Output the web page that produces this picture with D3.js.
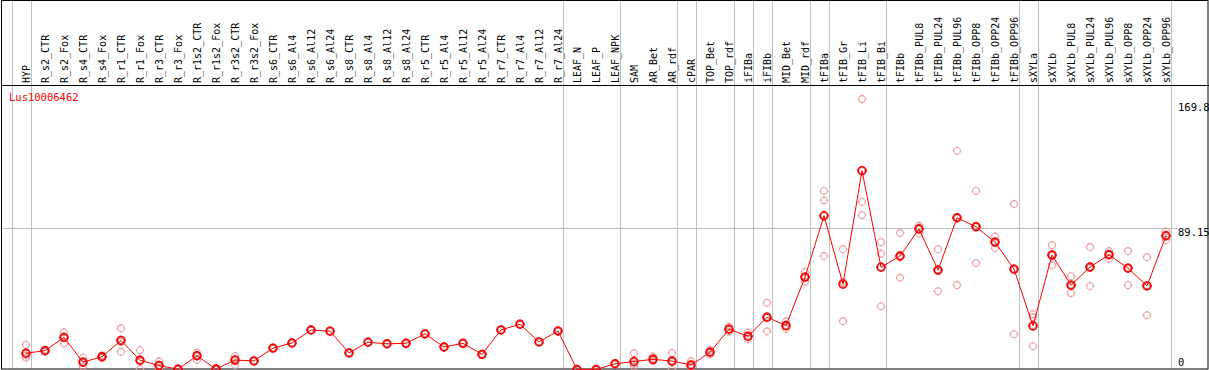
<!DOCTYPE html>
<html>
<head>
<meta charset="utf-8">
<script src="https://cdn.jsdelivr.net/npm/d3@7"></script>
<style>
  html, body { margin: 0; padding: 0; background: #fff; }
  text { font-family: "DejaVu Sans Mono", "Liberation Mono", monospace; }
</style>
</head>
<body>
<div id="chart"></div>
<script>
'use strict';

// sample names, in plot order
var categories = [
  'HYP', 'R_s2_CTR', 'R_s2_Fox', 'R_s4_CTR', 'R_s4_Fox', 'R_r1_CTR', 'R_r1_Fox',
  'R_r3_CTR', 'R_r3_Fox', 'R_r1s2_CTR', 'R_r1s2_Fox', 'R_r3s2_CTR', 'R_r3s2_Fox',
  'R_s6_CTR', 'R_s6_Al4', 'R_s6_Al12', 'R_s6_Al24', 'R_s8_CTR', 'R_s8_Al4',
  'R_s8_Al12', 'R_s8_Al24', 'R_r5_CTR', 'R_r5_Al4', 'R_r5_Al12', 'R_r5_Al24',
  'R_r7_CTR', 'R_r7_Al4', 'R_r7_Al12', 'R_r7_Al24', 'LEAF_N', 'LEAF_P', 'LEAF_NPK',
  'SAM', 'AR_Bet', 'AR_rdf', 'cPAR', 'TOP_Bet', 'TOP_rdf', 'iFIBa', 'iFIBb',
  'MID_Bet', 'MID_rdf', 'tFIBa', 'tFIB_Gr', 'tFIB_Li', 'tFIB_Bi', 'tFIBb',
  'tFIBb_PUL8', 'tFIBb_PUL24', 'tFIBb_PUL96', 'tFIBb_OPP8', 'tFIBb_OPP24', 'tFIBb_OPP96',
  'sXYLa', 'sXYLb', 'sXYLb_PUL8', 'sXYLb_PUL24', 'sXYLb_PUL96', 'sXYLb_OPP8',
  'sXYLb_OPP24', 'sXYLb_OPP96'
];

// mean expression per sample
var means = [
  10.8, 12.4, 20.7, 5.2, 8.6, 18.8, 6.4, 3.1, 0.8, 9.2, 0.9, 6.5, 6.0,
  14.0, 17.2, 25.3, 24.6, 11.0, 17.7, 16.7, 17.0, 22.9, 14.7, 17.0, 10.1,
  25.4, 28.9, 17.9, 24.7, 0.6, 0.6, 4.2,
  5.6, 7.0, 5.9, 3.4, 11.4, 25.8, 21.4, 33.3,
  28.1, 58.4, 96.8, 54.0, 125.0, 64.6, 71.6,
  88.5, 62.8, 95.5, 89.9, 80.3, 63.4,
  27.9, 72.2, 53.4, 64.7, 72.4, 64.0, 52.9, 84.3
];

// individual replicates per sample
var replicates = [
  [16.0, 9.3, 8.0], [11.8, 12.4, 13.0], [23.9, 17.0, 20.9], [8.0, 2.4, 5.0], [8.0, 9.4, 8.7],
  [26.4, 11.8, 17.9], [12.7, 0.8, 5.7], [5.8, 0.8, 3.3], [0.8, 0.6, 1.0], [11.2, 6.6, 9.5],
  [0.9, 0.9, 0.9], [9.1, 3.4, 6.9], [6.0, 6.0, 6.0],
  [14.0], [17.2], [25.3], [24.6], [11.0], [17.7], [16.7], [17.0], [22.9], [14.7], [17.0], [10.1],
  [25.4], [28.9], [17.9], [24.7], [0.6], [0.6], [4.2],
  [10.8, 2.4, 4.1], [8.7, 5.8, 6.6], [11.0, 0.8, 5.6], [5.8, 2.4, 2.7], [12.8, 9.9, 11.4],
  [27.4, 24.3, 25.8], [23.7, 19.5, 21.0], [42.3, 24.5, 33.2],
  [30.6, 26.0, 27.7], [61.5, 55.5, 58.2], [112.3, 106.4, 71.6], [75.9, 30.8, 55.3],
  [169.8, 105.4, 97.2], [80.3, 73.0, 40.2], [86.0, 58.0, 70.8],
  [90.5, 85.5, 89.5], [75.9, 49.6, 62.9], [137.3, 53.4, 95.8], [112.3, 67.2, 90.2],
  [83.8, 76.6, 80.5], [104.1, 22.7, 63.4],
  [35.2, 15.2, 33.3], [78.4, 65.9, 72.3], [59.0, 48.4, 52.8], [77.2, 52.8, 64.1],
  [74.7, 69.9, 72.6], [74.7, 53.4, 63.9], [70.9, 34.6, 53.2], [87.0, 81.6, 84.3]
];

// index of the last sample in each group (a grey rule is drawn after it)
var groupEnds = [-1, 0, 28, 31, 34, 35, 37, 38, 39, 41, 42, 45, 52, 53, 60];

// value labels on the right
var yMax = 169.8,
  yMid = 89.15;

var geneName = 'Lus10006462';

var W = 1209,
  H = 370,
  headerBottom = 85,
  plotBottom = 369;

var svg = d3.select('#chart')
  .append('svg')
  .attr('width', W)
  .attr('height', H);

var x = d3.scaleLinear()
  .domain([0, categories.length - 1])
  .range([26, 1166]);

var y = d3.scaleLinear()
  .domain([0, yMax])
  .range([370.5, 99]);

// group separators, full height
svg.append('g')
  .selectAll('line')
  .data(groupEnds)
  .join('line')
  .attr('x1', function(d) { return Math.round(x(d) + 4.7) + 0.5; })
  .attr('x2', function(d) { return Math.round(x(d) + 4.7) + 0.5; })
  .attr('y1', 0)
  .attr('y2', plotBottom)
  .attr('stroke', '#c0c0c0')
  .attr('stroke-width', 1);

// mid value rule
svg.append('line')
  .attr('x1', 1)
  .attr('x2', 1177)
  .attr('y1', Math.round(y(yMid)) + 0.5)
  .attr('y2', Math.round(y(yMid)) + 0.5)
  .attr('stroke', '#c0c0c0')
  .attr('stroke-width', 1);

// frame and header separator
svg.append('rect')
  .attr('x', 1.5)
  .attr('y', 0.5)
  .attr('width', W - 2.5)
  .attr('height', plotBottom - 0.5)
  .attr('fill', 'none')
  .attr('stroke', '#000')
  .attr('stroke-width', 1);

svg.append('line')
  .attr('x1', 1)
  .attr('x2', W)
  .attr('y1', headerBottom + 0.5)
  .attr('y2', headerBottom + 0.5)
  .attr('stroke', '#000');

// vertical sample labels
svg.append('g')
  .selectAll('text')
  .data(categories)
  .join('text')
  .attr('transform', function(d, i) {
    return 'translate(' + (x(i) + 4) + ',' + (headerBottom - 2) + ') rotate(-90)';
  })
  .attr('font-size', '10px')
  .attr('fill', '#000')
  .text(function(d) { return d; });

// gene name
svg.append('text')
  .attr('x', 9)
  .attr('y', 101)
  .attr('font-size', '10.5px')
  .attr('fill', '#f00')
  .text(geneName);

// right value labels
var valueLabels = [
  { v: yMax, text: String(yMax), dy: 12 },
  { v: yMid, text: String(yMid), dy: 8.5 },
  { v: 0, text: '0', dy: -4.5 }
];
svg.append('g')
  .selectAll('text')
  .data(valueLabels)
  .join('text')
  .attr('x', 1178)
  .attr('y', function(d) { return y(d.v) + d.dy; })
  .attr('font-size', '10.5px')
  .attr('fill', '#000')
  .text(function(d) { return d.text; });

/**
 * Ring marker with four small ticks, like the source plotter draws.
 */
function marker(g, r, color, width) {
  g.append('circle')
    .attr('r', r)
    .attr('fill', 'none')
    .attr('stroke', color)
    .attr('stroke-width', width);
  g.append('path')
    .attr('d', 'M' + (-r - 1) + ',0H' + (-r + 0.5) + 'M' + (r - 0.5) + ',0H' + (r + 1) +
      'M0,' + (-r - 1) + 'V' + (-r + 0.5) + 'M0,' + (r - 0.5) + 'V' + (r + 1))
    .attr('stroke', color)
    .attr('stroke-width', 1);
}

// replicates
var repData = [];
replicates.forEach(function(list, i) {
  list.forEach(function(v) { repData.push({ i: i, v: v }); });
});
svg.append('g')
  .selectAll('g')
  .data(repData)
  .join('g')
  .attr('transform', function(d) { return 'translate(' + x(d.i) + ',' + y(d.v) + ')'; })
  .each(function() { marker(d3.select(this), 3.4, '#ec9a9a', 1.1); });

// mean line
svg.append('path')
  .datum(means)
  .attr('fill', 'none')
  .attr('stroke', '#f00')
  .attr('stroke-width', 1)
  .attr('d', d3.line()
    .x(function(d, i) { return x(i); })
    .y(function(d) { return y(d); }));

// mean markers
svg.append('g')
  .selectAll('g')
  .data(means)
  .join('g')
  .attr('transform', function(d, i) { return 'translate(' + x(i) + ',' + y(d) + ')'; })
  .each(function() {
    var g = d3.select(this);
    marker(g, 3.9, '#f00', 1.6);
    g.append('circle')
      .attr('r', 2.9)
      .attr('fill', 'none')
      .attr('stroke', '#900')
      .attr('stroke-width', 0.4);
  });
</script>
</body>
</html>
